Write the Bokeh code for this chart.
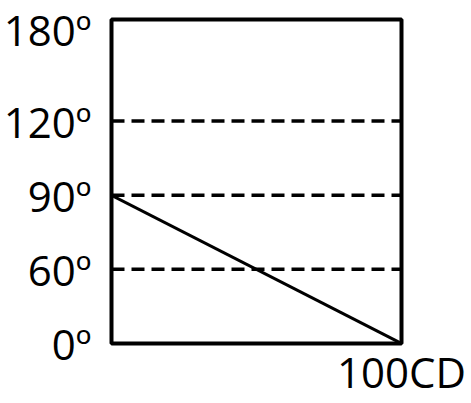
import numpy as np
from bokeh.plotting import figure
from bokeh.models import Range1d, FixedTicker
from bokeh.embed import file_html
from bokeh.resources import INLINE

# ---- data ----
x_ticks = [100]
x_tick_labels = ["100CD"]
angle_ticks = [0, 60, 90, 120, 180]
angle_tick_labels = ["0º", "60º", "90º", "120º", "180º"]
# the drawn angle axis is not linear: 0/60/90/120 equally spaced, 180 further up
angle_axis_positions = [0, 1, 2, 3, 4.37]
dashed_angles = [60, 90, 120]
line_x = [0, 100]
line_angle = [90, 0]


def apos(a):
    return np.interp(a, angle_ticks, angle_axis_positions)


p = figure(width=471, height=403, output_backend="svg", toolbar_location=None,
           x_range=Range1d(0, 100), y_range=Range1d(0, angle_axis_positions[-1]),
           min_border_left=109, min_border_top=19, min_border_right=70, min_border_bottom=60)

p.background_fill_color = "white"
p.border_fill_color = "white"
p.outline_line_color = "black"
p.outline_line_width = 4
p.outline_line_alpha = 1.0
p.xgrid.visible = False
p.ygrid.visible = False

dy = apos(dashed_angles)
p.segment(x0=[0] * len(dy), x1=[100] * len(dy), y0=dy, y1=dy,
          line_color="black", line_width=3.5, line_dash="13 7")
p.line(line_x, apos(line_angle), line_color="black", line_width=3)

for ax in (p.xaxis[0], p.yaxis[0]):
    ax.axis_line_color = None
    ax.major_tick_line_color = None
    ax.minor_tick_line_color = None
    ax.major_tick_out = 0
    ax.major_tick_in = 0
    ax.minor_tick_out = 0
    ax.minor_tick_in = 0
    ax.major_label_text_font = "Open Sans"
    ax.major_label_text_font_size = "42px"
    ax.major_label_text_color = "black"

p.yaxis.ticker = FixedTicker(ticks=list(map(float, apos(angle_ticks))))
p.yaxis.major_label_overrides = {float(apos(a)): lab for a, lab in zip(angle_ticks, angle_tick_labels)}
p.yaxis.major_label_standoff = 20

p.xaxis.ticker = FixedTicker(ticks=x_ticks)
p.xaxis.major_label_overrides = {t: lab for t, lab in zip(x_ticks, x_tick_labels)}
p.xaxis.major_label_standoff = -1

open("out.html", "w").write(file_html(p, INLINE))
